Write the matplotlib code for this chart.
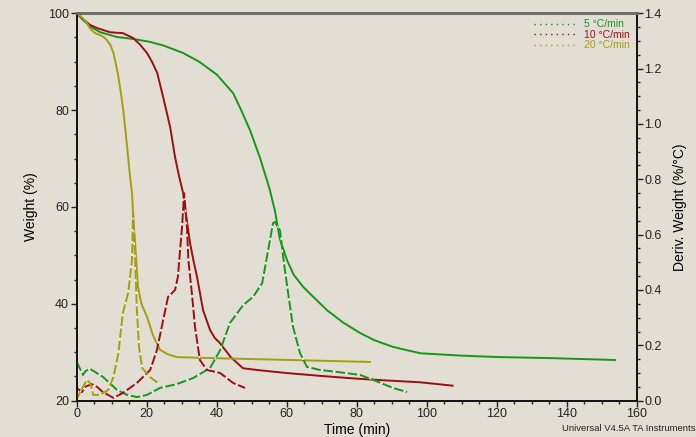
import numpy as np
import matplotlib as mpl
import matplotlib.pyplot as plt
from matplotlib.ticker import MultipleLocator

plt.rcParams['font.family'] = ['Liberation Sans', 'DejaVu Sans']

BG = '#e3ded4'
GREEN = '#18961a'
RED = '#9c0e10'
OLIVE = '#a0a010'

labels = ['5 °C/min', '10 °C/min', '20 °C/min']

# weight curves (%)
t_w5 = [0, 2, 4, 6.7, 11.5, 16.1, 20.9, 25, 30.4, 35, 40.1, 44.7, 47, 49.5, 52.4,
        55.2, 56.7, 58, 60.1, 62, 64.7, 67.5, 71.5, 76, 80.9, 85, 90.4, 98.1, 110,
        120.9, 135, 153.8]
w_5 = [100, 98.5, 97.2, 96.1, 95.1, 94.7, 94.1, 93.3, 91.8, 90.0, 87.3, 83.5, 80.0,
       75.9, 70.1, 63.5, 59.0, 53.5, 49.0, 46.0, 43.5, 41.5, 38.7, 36.2, 34.0, 32.5,
       31.1, 29.8, 29.3, 29.0, 28.8, 28.4]

t_w10 = [0, 1.5, 3.8, 6, 9.5, 11, 13.2, 16.1, 18, 20.1, 21.5, 23.0, 24.7, 26.7, 28.1,
         29.2, 30.4, 31.4, 32.4, 33.4, 34.4, 36.1, 38.1, 39.4, 40.9, 44, 47.5, 52, 60.1,
         70, 79.0, 88, 98.1, 107.4]
w_10 = [100, 99.0, 97.6, 96.9, 96.1, 96.0, 95.9, 94.9, 93.6, 91.8, 90.0, 87.7, 82.7,
        76.5, 70.3, 66.5, 62.9, 57.5, 52.5, 48.8, 45.5, 38.7, 34.6, 33.0, 31.9, 29.0,
        26.7, 26.3, 25.7, 25.1, 24.6, 24.2, 23.8, 23.1]

t_w20 = [0, 1, 2, 2.9, 3.7, 4.7, 5.5, 6.7, 7.7, 8.6, 9.6, 10.5, 11.2, 11.9, 12.6, 13.3,
         14.0, 14.7, 15.2, 15.8, 16.2, 16.7, 17.5, 18.5, 20.1, 21.8, 23.8, 26, 28.6,
         38.1, 83.8]
w_20 = [100, 99.4, 98.8, 98.0, 97.0, 96.2, 95.8, 95.5, 95.1, 94.5, 93.5, 91.8, 89.5,
        86.9, 83.7, 80.0, 75.3, 70.3, 66.5, 62.9, 57.5, 52.5, 43.5, 40.0, 37.3, 33.5,
        30.5, 29.6, 29.0, 28.8, 28.0]

# derivative curves (%/°C)
t_d5 = [0, 1.8, 2.5, 3.8, 7.5, 11.5, 14.4, 17.2, 20.1, 23.8, 28.6, 33.3, 38.1, 41.0,
        43.8, 47.6, 50.4, 53.0, 54.7, 56.1, 56.6, 58.1, 59.0, 60.4, 61.8, 63.8, 65.8,
        69.5, 74.4, 81.0, 84.7, 90.4, 94.4]
d_5 = [0.140, 0.093, 0.107, 0.115, 0.086, 0.039, 0.021, 0.013, 0.021, 0.046, 0.060,
       0.082, 0.118, 0.183, 0.281, 0.346, 0.375, 0.425, 0.544, 0.642, 0.646, 0.615,
       0.519, 0.389, 0.267, 0.172, 0.122, 0.111, 0.104, 0.093, 0.075, 0.046, 0.031]

t_d10 = [0, 1.5, 2.4, 4.3, 5.8, 7.5, 10.5, 13.2, 17.2, 21.0, 22.9, 24.7, 26.1, 28.1,
         28.9, 30.1, 30.7, 31.5, 31.9, 32.9, 33.8, 35.2, 37.2, 41.0, 44.7, 48.1]
d_10 = [0.046, 0.031, 0.050, 0.060, 0.050, 0.031, 0.010, 0.028, 0.064, 0.111, 0.182,
        0.291, 0.375, 0.400, 0.447, 0.628, 0.750, 0.628, 0.508, 0.389, 0.267, 0.147,
        0.111, 0.100, 0.064, 0.046]

t_d20 = [0, 0.3, 1.8, 2.9, 3.8, 4.3, 4.7, 6.7, 9.0, 10.5, 11.9, 13.2, 14.7, 15.8,
         16.1, 16.7, 17.2, 17.8, 18.7, 20.9, 23.2]
d_20 = [0.028, 0.013, 0.050, 0.075, 0.064, 0.045, 0.021, 0.021, 0.039, 0.086, 0.171,
        0.317, 0.389, 0.508, 0.680, 0.508, 0.327, 0.194, 0.118, 0.086, 0.064]

fig = plt.figure(figsize=(6.96, 4.37), dpi=100, facecolor=BG)
ax = fig.add_axes([0.1102, 0.0831, 0.8046, 0.8865])
ax.set_facecolor(BG)
ax2 = ax.twinx()

colors = [GREEN, RED, OLIVE]
weights = [(t_w5, w_5), (t_w10, w_10), (t_w20, w_20)]
derivs = [(t_d5, d_5), (t_d10, d_10), (t_d20, d_20)]

for (t, w), c in zip(weights, colors):
    ax.plot(t, w, color=c, lw=1.4, solid_joinstyle='round')

for (t, d), c in zip(derivs, colors):
    ax2.plot(t, d, color='white', lw=0.8, alpha=0.9)
    ax2.plot(t, d, color=c, lw=1.4, dashes=(5, 1.3), dash_joinstyle='round')

ax.set_xlim(0, 160)
ax.set_ylim(20, 100)
ax2.set_ylim(0, 1.4)

ax.xaxis.set_major_locator(MultipleLocator(20))
ax.xaxis.set_minor_locator(MultipleLocator(5))
ax.yaxis.set_major_locator(MultipleLocator(20))
ax.yaxis.set_minor_locator(MultipleLocator(5))
ax2.yaxis.set_major_locator(MultipleLocator(0.2))
ax2.yaxis.set_minor_locator(MultipleLocator(0.05))
ax2.yaxis.set_major_formatter(mpl.ticker.FormatStrFormatter('%.1f'))

for a in (ax, ax2):
    a.tick_params(which='major', direction='out', length=4, width=1, labelsize=9,
                  colors='#222222', pad=1.5)
    a.tick_params(which='minor', direction='out', length=2.5, width=1, colors='#222222')
    a.spines['top'].set_color('#6e6e6e')
    a.spines['top'].set_linewidth(2)
    for s in ('left', 'right', 'bottom'):
        a.spines[s].set_linewidth(1.2)
        a.spines[s].set_color('#111111')

ax.set_xlabel('Time (min)', fontsize=10, labelpad=2)
ax.set_ylabel('Weight (%)', fontsize=10, labelpad=7)
ax2.set_ylabel('Deriv. Weight (%/°C)', fontsize=10, labelpad=8)

# legend
handles = [mpl.lines.Line2D([], [], color=c, ls=(0, (1, 3)), lw=1) for c in colors]
leg = ax.legend(handles, labels, loc='upper right', bbox_to_anchor=(1.0, 1.003),
                frameon=False, fontsize=7.5, handlelength=4.2, handletextpad=0.6,
                labelspacing=0.05, borderpad=0.2)
for txt, c in zip(leg.get_texts(), colors):
    txt.set_color(c)

fig.text(0.999, 0.01, 'Universal V4.5A TA Instruments', fontsize=6.8,
         ha='right', va='bottom', color='#222222')

fig.savefig('out.png', dpi=100, facecolor=BG)
